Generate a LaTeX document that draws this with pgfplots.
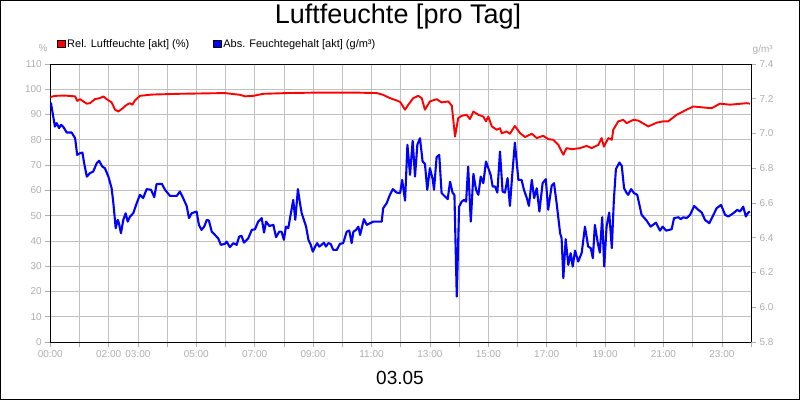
\documentclass[border=0pt]{standalone}
\usepackage{fontspec}
\setmainfont{Liberation Sans}
\usepackage{pgfplots}
\pgfplotsset{compat=1.18}

\definecolor{tickgray}{RGB}{175,175,175}
\definecolor{gridgray}{RGB}{192,192,192}

% hour of day, relative humidity (%)
\pgfplotstableread{
h v
0.00 96.9
0.16 97.4
0.50 97.5
0.85 97.2
0.92 95.4
1.02 96.1
1.13 95.2
1.25 94.3
1.36 94.5
1.53 96.1
1.70 96.5
1.82 97.2
1.93 96.1
2.10 94.8
2.22 91.9
2.33 91.2
2.45 92.2
2.62 93.9
2.73 94.5
2.81 93.9
2.90 95.6
3.07 97.4
3.47 97.9
4.38 98.2
5.98 98.5
6.50 97.8
6.67 97.2
6.95 97.4
7.29 98.2
8.10 98.5
9.24 98.7
10.38 98.7
11.18 98.5
11.40 97.8
11.63 96.5
11.86 95.6
11.98 95.0
12.15 91.9
12.26 93.9
12.43 96.5
12.60 97.4
12.72 96.5
12.83 91.9
13.00 95.2
13.23 96.1
13.40 94.8
13.63 95.2
13.75 93.5
13.86 81.3
13.97 88.6
14.09 89.5
14.26 89.9
14.37 88.2
14.49 91.2
14.66 89.9
14.83 89.2
14.92 87.3
15.00 89.2
15.12 85.3
15.29 84.0
15.40 84.6
15.46 82.6
15.63 83.3
15.74 82.4
15.91 85.5
16.09 82.6
16.26 81.1
16.49 82.4
16.66 80.7
16.88 81.6
17.05 80.3
17.23 80.0
17.40 78.0
17.51 75.4
17.57 74.1
17.68 76.7
17.86 76.3
18.14 76.7
18.37 77.6
18.54 76.7
18.77 78.0
18.88 80.7
18.96 77.3
19.11 80.7
19.23 80.0
19.28 84.0
19.45 87.3
19.62 87.9
19.74 86.6
19.97 87.9
20.14 87.6
20.48 85.3
20.77 86.8
20.99 87.3
21.16 87.3
21.45 89.9
21.79 91.9
22.02 93.2
22.36 92.8
22.65 92.5
22.93 94.3
23.28 93.9
23.85 94.5
23.96 94.3
}\relhum

% hour of day, absolute humidity (g/m3)
\pgfplotstableread{
h v
0.02 7.178
0.10 7.098
0.16 7.040
0.22 7.060
0.30 7.031
0.37 7.050
0.45 7.037
0.56 7.006
0.73 7.006
0.85 6.973
0.92 6.877
1.02 6.887
1.10 6.890
1.16 6.829
1.25 6.752
1.36 6.772
1.47 6.781
1.59 6.829
1.67 6.843
1.78 6.810
1.87 6.800
1.99 6.752
2.10 6.685
2.16 6.599
2.24 6.455
2.31 6.503
2.35 6.484
2.42 6.426
2.50 6.503
2.58 6.541
2.65 6.493
2.73 6.522
2.84 6.541
2.96 6.599
3.07 6.647
3.18 6.628
3.30 6.680
3.45 6.676
3.56 6.634
3.64 6.709
3.82 6.710
3.93 6.676
4.10 6.641
4.33 6.641
4.44 6.666
4.55 6.628
4.67 6.583
4.75 6.513
4.84 6.541
5.01 6.551
5.09 6.474
5.18 6.445
5.27 6.464
5.36 6.503
5.43 6.499
5.53 6.435
5.64 6.416
5.75 6.397
5.84 6.359
5.98 6.365
6.04 6.378
6.15 6.346
6.27 6.369
6.38 6.359
6.47 6.407
6.55 6.411
6.63 6.372
6.78 6.397
6.90 6.445
7.01 6.449
7.12 6.493
7.24 6.513
7.32 6.430
7.39 6.493
7.50 6.468
7.64 6.474
7.73 6.403
7.84 6.435
7.92 6.435
8.00 6.388
8.07 6.464
8.15 6.455
8.23 6.532
8.32 6.618
8.39 6.503
8.48 6.680
8.55 6.599
8.61 6.541
8.76 6.464
8.84 6.388
8.92 6.359
8.99 6.320
9.07 6.349
9.14 6.369
9.21 6.349
9.29 6.359
9.37 6.372
9.44 6.349
9.52 6.369
9.60 6.365
9.69 6.330
9.81 6.330
9.92 6.365
10.03 6.369
10.15 6.435
10.24 6.441
10.32 6.369
10.38 6.435
10.47 6.445
10.55 6.464
10.61 6.416
10.74 6.507
10.84 6.474
11.06 6.493
11.35 6.493
11.40 6.570
11.52 6.599
11.63 6.647
11.73 6.680
11.86 6.660
11.98 6.657
12.05 6.733
12.15 6.614
12.23 6.935
12.32 6.762
12.41 6.958
12.49 6.752
12.57 6.935
12.66 6.973
12.75 6.839
12.83 6.825
12.91 6.676
13.00 6.801
13.10 6.733
13.14 6.676
13.23 6.864
13.32 6.877
13.40 6.657
13.52 6.637
13.61 6.622
13.69 6.723
13.78 6.657
13.84 6.647
13.92 6.061
14.00 6.579
14.09 6.608
14.17 6.618
14.24 6.608
14.31 6.810
14.40 6.493
14.49 6.768
14.58 6.676
14.66 6.647
14.74 6.752
14.83 6.714
14.92 6.839
15.00 6.801
15.08 6.762
15.15 6.695
15.23 6.695
15.31 6.660
15.40 6.896
15.49 6.666
15.57 6.660
15.66 6.743
15.74 6.583
15.82 6.762
15.91 6.948
16.03 6.733
16.14 6.733
16.22 6.676
16.32 6.628
16.39 6.583
16.49 6.733
16.57 6.628
16.66 6.685
16.75 6.551
16.86 6.714
16.97 6.737
17.05 6.561
17.17 6.699
17.25 6.714
17.34 6.599
17.46 6.426
17.51 6.397
17.57 6.167
17.65 6.392
17.74 6.244
17.82 6.311
17.89 6.234
17.97 6.326
18.08 6.263
18.20 6.314
18.31 6.464
18.42 6.349
18.51 6.340
18.58 6.282
18.65 6.474
18.75 6.369
18.82 6.314
18.90 6.518
18.97 6.234
19.05 6.464
19.14 6.545
19.23 6.340
19.30 6.618
19.37 6.795
19.49 6.833
19.57 6.814
19.65 6.685
19.74 6.657
19.79 6.647
19.89 6.680
19.99 6.657
20.10 6.647
20.25 6.532
20.42 6.499
20.56 6.464
20.74 6.487
20.88 6.441
20.97 6.464
21.09 6.441
21.28 6.449
21.36 6.513
21.51 6.518
21.59 6.507
21.68 6.518
21.79 6.513
21.91 6.532
22.05 6.583
22.19 6.561
22.31 6.545
22.42 6.503
22.57 6.484
22.71 6.532
22.82 6.570
22.97 6.589
23.11 6.532
23.22 6.522
23.39 6.541
23.53 6.561
23.62 6.551
23.73 6.579
23.82 6.522
23.90 6.545
23.96 6.551
}\abshum

\pgfplotsset{
  common/.style={
    width=700.8pt, height=278pt, scale only axis,
    at={(0pt,0pt)}, anchor=south west,
    xmin=0, xmax=24,
    tick align=outside, major tick length=5pt,
    tick style={tickgray, line width=0.8pt},
    ticklabel style={tickgray, font=\fontsize{10}{12}\selectfont},
    axis line style={black, line width=1pt},
    /pgf/number format/assume math mode=true,
  },
}

\begin{document}
\begin{tikzpicture}
\useasboundingbox (-50.3pt,-58pt) rectangle (749.7pt,342pt);
\fill[white] (-50.3pt,-58pt) rectangle (749.7pt,342pt);

\begin{axis}[common,
  xtick={0,1,...,24},
  xticklabels={00:00,,02:00,03:00,,05:00,,07:00,,09:00,,11:00,,13:00,,15:00,,17:00,,19:00,,21:00,,23:00,},
  xtick pos=bottom, ytick pos=left,
  ymin=0, ymax=110, ytick={0,10,...,110},
  grid=major, grid style={gridgray, line width=0.8pt},
]
\addplot[red, line width=1.9pt, line join=round] table[x=h, y=v] {\relhum};
\end{axis}

\begin{axis}[common,
  axis x line=none, axis y line*=right,
  ymin=5.8, ymax=7.4, ytick={5.8,6.0,6.2,6.4,6.6,6.8,7.0,7.2,7.4},
  yticklabel style={/pgf/number format/.cd, fixed, fixed zerofill, precision=1},
  legend columns=2,
  legend style={at={(0.0096,1.072)}, anchor=west, draw=none, fill=none,
    inner sep=0pt, font=\fontsize{11}{13}\selectfont, text=black,
    /tikz/every even column/.append style={column sep=22pt}},
  legend image code/.code={\filldraw[#1, draw=black, line width=0.6pt] (0pt,-3.7pt) rectangle (7.4pt,3.7pt);},
]
\addlegendimage{red}
\addplot[blue, line width=2.1pt, line join=round] table[x=h, y=v] {\abshum};
\legend{Rel. Luftfeuchte [akt] (\%), Abs. Feuchtegehalt [akt] (g/m³)}
\end{axis}

\node[anchor=base, font=\fontsize{27}{31}\selectfont] at (347.7pt,318.5pt) {Luftfeuchte [pro Tag]};
\node[anchor=base, font=\fontsize{19}{22}\selectfont] at (349.7pt,-42pt) {03.05};
\node[tickgray, font=\fontsize{10}{12}\selectfont] at (-7.3pt,294pt) {\%};
\node[tickgray, font=\fontsize{10}{12}\selectfont] at (712.4pt,292.5pt) {g/m³};
\draw[black, line width=1pt] (-49.8pt,-57.5pt) rectangle (749.2pt,341.5pt);
\end{tikzpicture}
\end{document}
